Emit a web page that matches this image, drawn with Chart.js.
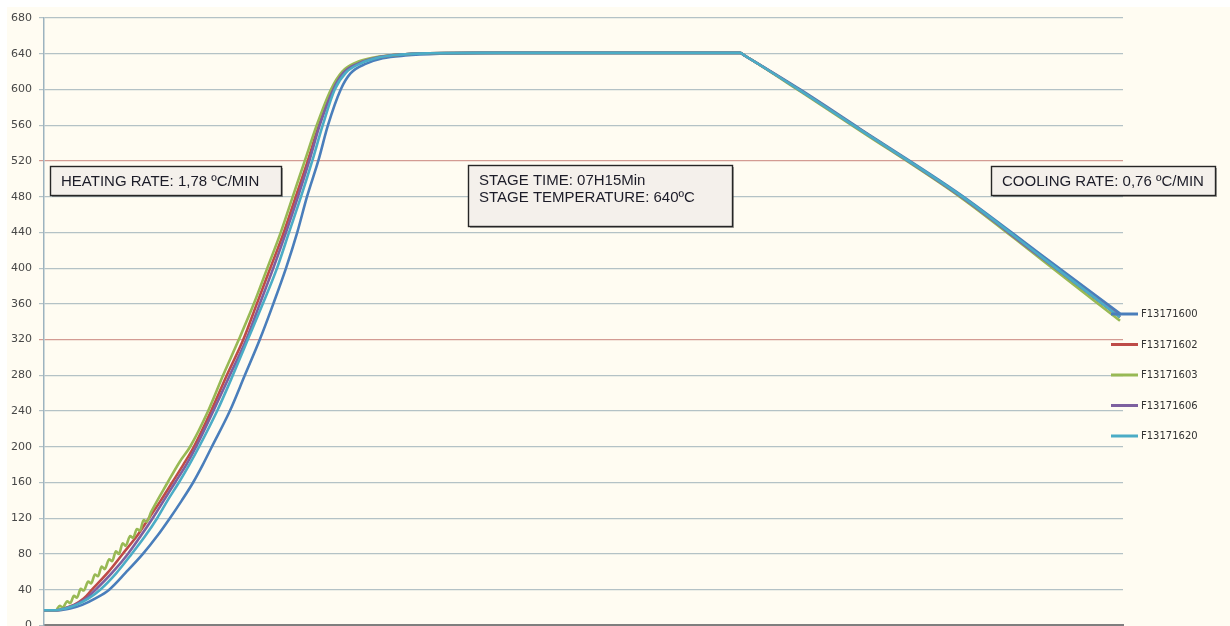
<!DOCTYPE html>
<html>
<head>
<meta charset="utf-8">
<title>Heat treatment cycle</title>
<script src="https://cdn.jsdelivr.net/npm/chart.js@4.4.1/dist/chart.umd.min.js"></script>
<style>
  html, body { margin: 0; padding: 0; background: #ffffff; overflow: hidden; }
  #wrap { position: absolute; left: 0; top: 0; width: 1230px; height: 639px; }
</style>
</head>
<body>
<div id="wrap"><canvas id="chart"></canvas></div>
<script>
// Furnace records: elapsed time (min) and temperature (ºC) per thermocouple
const seriesNames = ['F13171600', 'F13171602', 'F13171603', 'F13171606', 'F13171620'];

const t1600 = [0, 19, 35, 51, 68, 87, 109, 132, 151, 168, 184, 199, 212, 224, 248, 268, 288, 306, 323, 338, 351, 366, 379, 396, 409, 430, 452, 482, 528, 609, 929, 935, 1009, 1089, 1222, 1329, 1436];
const v1600 = [17, 17, 19, 23, 30, 40, 59, 80, 100, 120, 140, 160, 180, 200, 240, 280, 320, 360, 400, 440, 480, 520, 560, 600, 618, 629, 635, 638, 640, 641, 641, 638, 600, 556, 483, 416, 349];

const t1602 = [0, 17, 27, 40, 53, 64, 85, 105, 124, 140, 156, 171, 186, 200, 223, 244, 266, 284, 302, 320, 336, 352, 367, 386, 400, 419, 446, 475, 515, 582, 929, 935, 1009, 1089, 1222, 1329, 1436];
const v1602 = [17, 17, 19, 23, 30, 40, 59, 80, 100, 120, 140, 160, 180, 200, 240, 280, 320, 360, 400, 440, 480, 520, 560, 600, 620, 630, 636, 639, 640.5, 641, 641, 638, 599, 555, 481, 413, 345];

const t1603 = [0, 16, 21, 25, 31, 35, 40, 44, 49, 53, 59, 63, 68, 72, 77, 81, 87, 91, 96, 100, 105, 109, 115, 119, 124, 128, 133, 137, 143, 165, 181, 195, 219, 239, 260, 280, 298, 316, 332, 348, 364, 383, 398, 416, 442, 475, 515, 582, 929, 935, 1009, 1089, 1222, 1329, 1436];
const v1603 = [17, 17, 22, 20, 27, 25, 33, 31, 41, 39, 49, 47, 57, 55, 66, 63, 74, 72, 83, 80, 92, 89, 100, 98, 108, 106, 118, 116, 127, 160, 183, 200, 240, 280, 320, 360, 400, 440, 480, 520, 560, 600, 620, 630, 636, 639, 640.5, 641, 641, 638, 598, 554, 480, 411, 341];

const t1606 = [0, 17, 28, 41, 56, 69, 91, 112, 129, 145, 160, 175, 190, 203, 226, 248, 270, 288, 306, 323, 339, 354, 368, 386, 400, 419, 446, 475, 515, 582, 929, 935, 1009, 1089, 1222, 1329, 1436];
const v1606 = [17, 17, 19, 23, 30, 40, 59, 80, 100, 120, 140, 160, 180, 200, 240, 280, 320, 360, 400, 440, 480, 520, 560, 600, 619, 629, 636, 639, 640.5, 641, 641, 638, 599, 555, 481, 413, 346];

const t1620 = [0, 17, 29, 43, 59, 75, 96, 117, 135, 151, 165, 180, 194, 207, 231, 252, 272, 292, 311, 327, 343, 358, 372, 388, 403, 422, 448, 475, 515, 582, 929, 935, 1009, 1089, 1222, 1329, 1436];
const v1620 = [17, 17, 19, 23, 30, 40, 58, 80, 100, 120, 140, 160, 180, 200, 240, 280, 320, 360, 400, 440, 480, 520, 560, 600, 619, 629, 636, 639, 640.5, 641, 641, 638, 599, 555, 482, 414, 345];

const seriesColors = ['#4a7ebb', '#be4b48', '#98b954', '#7d60a0', '#4bacc6'];
// lowest order is painted last, so the last thermocouple ends up on top
const drawOrder = [5, 4, 3, 2, 1];

const notes = [
  { box: [50, 166, 231, 29], lines: ['HEATING RATE: 1,78 ºC/MIN'] },
  { box: [468, 165, 264, 61], lines: ['STAGE TIME: 07H15Min', 'STAGE TEMPERATURE: 640ºC'] },
  { box: [991, 166, 224, 29], lines: ['COOLING RATE: 0,76 ºC/MIN'] }
];

function pairs(ts, vs) { return ts.map((t, i) => ({ x: t, y: vs[i] })); }
const allTimes = [t1600, t1602, t1603, t1606, t1620];
const allTemps = [v1600, v1602, v1603, v1606, v1620];

const datasets = seriesNames.map((name, i) => ({
  label: name,
  data: pairs(allTimes[i], allTemps[i]),
  borderColor: seriesColors[i],
  backgroundColor: seriesColors[i],
  borderWidth: 2.6,
  pointRadius: 0,
  cubicInterpolationMode: 'monotone',
  order: drawOrder[i],
  fill: false
}));

const panelBackground = {
  id: 'panelBackground',
  beforeDraw(chart) {
    const c = chart.ctx;
    c.save();
    c.fillStyle = '#ffffff';
    c.fillRect(0, 0, chart.width, chart.height);
    c.fillStyle = '#fffcf2';
    c.fillRect(7, 7, chart.width - 7, chart.height - 7);
    c.restore();
  }
};

const notesAndKey = {
  id: 'notesAndKey',
  afterDraw(chart) {
    const c = chart.ctx;
    c.save();
    // text boxes
    notes.forEach(n => {
      const [x, y, w, h] = n.box;
      c.fillStyle = 'rgba(60,60,60,0.45)';
      c.fillRect(x + 2, y + 2, w, h);
      c.fillStyle = '#f4f0eb';
      c.fillRect(x, y, w, h);
      c.strokeStyle = '#262626';
      c.lineWidth = 1.4;
      c.strokeRect(x + 0.5, y + 0.5, w, h);
      c.fillStyle = '#1c1c28';
      c.font = '15px "Liberation Sans", Arial, sans-serif';
      c.textAlign = 'left';
      c.textBaseline = 'alphabetic';
      n.lines.forEach((ln, k) => c.fillText(ln, x + 11, y + 20 + k * 17));
    });
    // series key at the right
    const keyX = 1111, keyTop = 314, keyStep = 30.5;
    chart.data.datasets.forEach((ds, i) => {
      const y = keyTop + i * keyStep;
      c.strokeStyle = ds.borderColor;
      c.lineWidth = 3;
      c.beginPath();
      c.moveTo(keyX, y);
      c.lineTo(keyX + 27, y);
      c.stroke();
      c.fillStyle = '#333333';
      c.font = '10px "DejaVu Sans", sans-serif';
      c.textBaseline = 'middle';
      c.fillText(ds.label, keyX + 30, y + 0.5);
    });
    c.restore();
  }
};

new Chart(document.getElementById('chart'), {
  type: 'line',
  data: { datasets },
  options: {
    responsive: true,
    maintainAspectRatio: false,
    animation: false,
    events: [],
    layout: { padding: { left: 0, top: 18, right: 107, bottom: 10 } },
    plugins: { legend: { display: false }, tooltip: { enabled: false } },
    scales: {
      x: {
        type: 'linear',
        min: 0,
        max: 1440,
        ticks: { display: false },
        grid: { display: false, drawTicks: false },
        border: { display: true, color: '#7f7f7f', width: 2 },
        afterFit(s) { s.height = 0; }
      },
      y: {
        min: 0,
        max: 680,
        ticks: {
          stepSize: 40,
          padding: 7,
          color: '#474747',
          font: { family: '"DejaVu Sans", sans-serif', size: 11 }
        },
        grid: {
          tickLength: 5,
          lineWidth: 1.2,
          color: (ctx) => (ctx.tick && (ctx.tick.value === 520 || ctx.tick.value === 320)) ? '#d39b93' : '#b4c2c6'
        },
        border: { display: true, color: '#9db3bf', width: 1.5 },
        afterFit(s) { s.width = 44; }
      }
    }
  },
  plugins: [panelBackground, notesAndKey]
});
</script>
</body>
</html>
